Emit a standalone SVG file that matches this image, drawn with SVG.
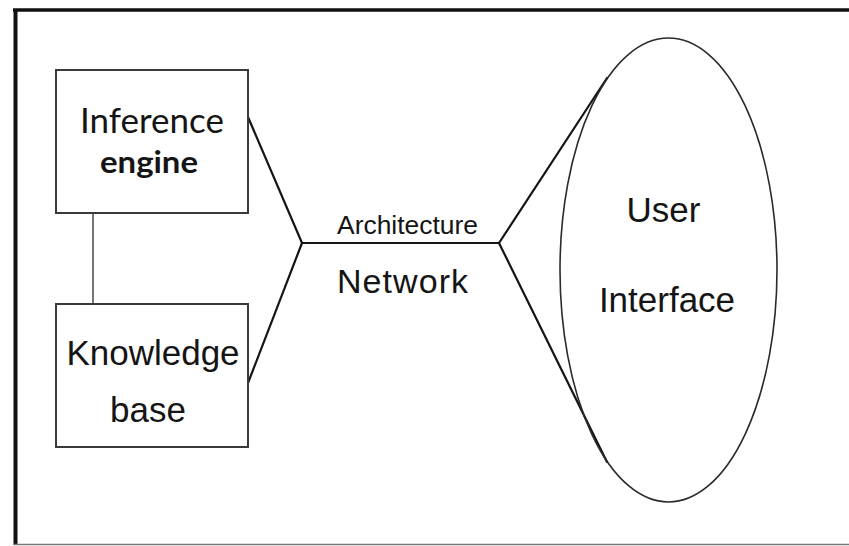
<svg xmlns="http://www.w3.org/2000/svg" width="849" height="546" viewBox="0 0 849 546">
  <style>
    .box { fill: #ffffff; stroke: #3a3a3a; stroke-width: 2; }
    .ell { fill: #ffffff; stroke: #2a2a2a; stroke-width: 1.6; }
    .ln { stroke: #151515; stroke-width: 2.2; fill: none; stroke-linecap: round; }
    .t { font-family: "Liberation Sans", Arial, sans-serif; fill: #151515; text-anchor: middle; }
    .c { font-family: Lato, "Liberation Sans", sans-serif; fill: #151515; text-anchor: middle; }
  </style>
  <rect x="0" y="0" width="849" height="546" fill="#ffffff"/>
  <g id="frame">
    <line x1="13" y1="10" x2="849" y2="10" stroke="#111" stroke-width="3.5"/>
    <line x1="15.5" y1="9" x2="15.5" y2="545" stroke="#111" stroke-width="4"/>
    <line x1="14" y1="544.5" x2="849" y2="544.5" stroke="#777" stroke-width="1.5"/>
  </g>
  <g id="connectors">
    <line class="ln" x1="93" y1="213" x2="93" y2="304" style="stroke:#777;stroke-width:2"/>
    <line class="ln" x1="248" y1="117" x2="302" y2="243"/>
    <line class="ln" x1="248" y1="383" x2="302" y2="243"/>
    <line class="ln" x1="302" y1="243" x2="499" y2="243"/>
    <line class="ln" x1="499" y1="243" x2="607" y2="78"/>
    <line class="ln" x1="499" y1="243" x2="607" y2="462"/>
  </g>
  <g id="inference-engine">
    <rect class="box" x="56" y="70" width="192" height="143"/>
    <text class="c" x="152" y="133" font-size="35">Inference</text>
    <text class="c" x="149" y="173" font-size="31" font-weight="700" textLength="98" lengthAdjust="spacingAndGlyphs">engine</text>
  </g>
  <g id="knowledge-base">
    <rect class="box" x="56" y="304" width="192" height="143"/>
    <text class="t" x="153" y="365" font-size="35">Knowledge</text>
    <text class="t" x="148" y="422" font-size="35">base</text>
  </g>
  <g id="network">
    <text class="t" x="407.5" y="234" font-size="25" textLength="141" lengthAdjust="spacingAndGlyphs">Architecture</text>
    <text class="t" x="402.5" y="293" font-size="34" textLength="131" lengthAdjust="spacing">Network</text>
  </g>
  <g id="user-interface">
    <ellipse class="ell" cx="668.5" cy="270" rx="108.5" ry="232" style="fill:none"/>
    <text class="t" x="663.5" y="222" font-size="35">User</text>
    <text class="t" x="667" y="312" font-size="35">Interface</text>
  </g>
</svg>
